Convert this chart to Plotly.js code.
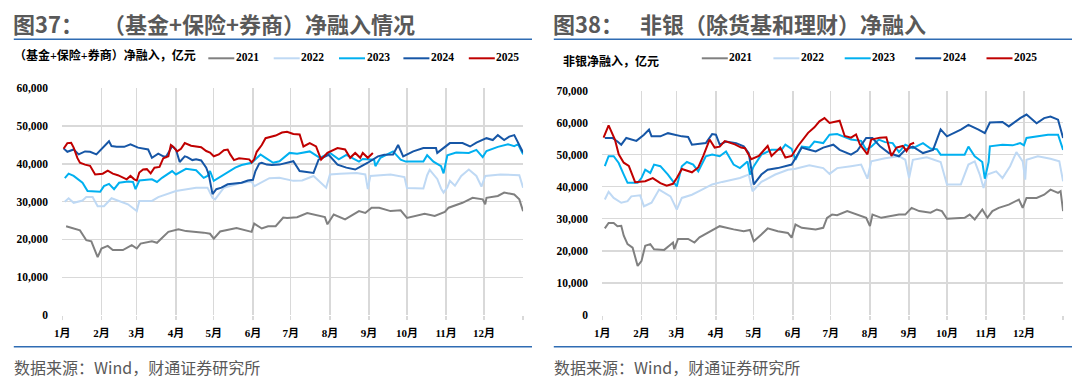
<!DOCTYPE html>
<html><head><meta charset="utf-8">
<script src="https://cdn.plot.ly/plotly-3.0.1.min.js"></script>
<style>html,body{margin:0;padding:0;background:#fff;}#chart{width:1080px;height:388px;}</style>
</head><body><div id="chart"></div>
<script>
// ---------- data ----------
const years = ["2021", "2022", "2023", "2024", "2025"];
const monthLabels = ["1月","2月","3月","4月","5月","6月","7月","8月","9月","10月","11月","12月",""];
const monthStartDays = [0,31,59,90,120,151,181,212,243,273,304,334,365];

const leftTitleNo = "图37：";
const leftTitle = "（基金+保险+券商）净融入情况";
const leftUnit = "（基金+保险+券商）净融入，亿元";
const rightTitleNo = "图38：";
const rightTitle = "非银（除货基和理财）净融入";
const rightUnit = "非银净融入，亿元";
const sourceText = "数据来源：Wind，财通证券研究所";

// Left chart: (基金+保险+券商) net financing, day-of-year vs 亿元
const left2021Days = [3,9,14,19,23,28,31,36,40,48,55,59,62,71,75,84,92,98,105,112,117,120,125,138,150,152,158,163,169,175,178,186,194,203,208,210,215,224,235,240,245,251,260,268,273,287,295,303,306,317,325,333,335,336,345,350,358,362,365];
const left2021Vals = [23500,22800,22400,19800,19500,15300,17600,18300,17200,17200,18500,17600,18900,19500,19100,22000,22700,22200,22100,21800,21500,20200,22100,23000,22000,24200,22900,23500,23500,25800,25700,25900,27000,26300,25900,24000,26600,25300,27500,27000,28400,28400,27500,27700,25700,26800,26200,27300,28400,29700,31000,30600,29300,31000,31500,32400,31900,30600,27500];

const left2022Days = [2,5,9,16,19,24,28,33,39,45,52,59,61,71,76,90,98,106,115,119,121,128,142,150,152,164,172,183,190,199,209,212,220,233,240,242,244,260,271,273,286,289,291,297,300,302,305,307,311,316,322,328,332,335,347,355,362,365];
const left2022Vals = [30000,30900,29700,30300,31200,31200,28800,28800,30900,30200,29300,27500,30200,30200,31200,32800,33300,33700,33700,31000,30600,33700,35000,35300,34100,36200,36300,35500,35600,36800,33700,37200,37400,37600,37200,33300,36800,37200,36500,33600,33500,37000,38400,36000,33500,32400,33800,35500,34200,36800,38500,36800,34000,36800,37200,37200,37000,33700];

const left2023Days = [2,5,9,16,20,30,33,37,41,45,52,56,58,61,71,75,79,87,90,98,106,112,115,117,120,128,137,142,150,153,157,161,167,172,180,186,196,204,212,219,225,235,238,247,248,252,262,268,272,286,289,294,300,302,305,312,322,328,333,336,345,353,358,361,365];
const left2023Vals = [36200,37400,36800,35000,32800,32600,34100,34700,33300,35000,35300,35200,33300,35600,35900,35200,36300,38100,37200,38700,38300,36300,36800,38100,35500,37200,39000,39700,40300,41200,42500,41600,40300,40700,42900,42700,43300,41600,42900,41200,42400,40600,41300,41100,39400,41600,43300,41100,40600,40600,42300,40600,39400,37500,42300,43000,42900,43700,41800,43400,44500,45200,44700,45200,42500];

const left2024Days = [1,4,9,13,18,22,27,31,33,37,39,43,49,54,60,66,68,71,76,80,82,85,87,90,93,97,99,103,106,110,114,116,119,122,126,131,138,142,147,151,153,156,158,162,166,172,183,188,199,203,211,218,225,232,237,242,250,255,262,266,270,278,286,296,297,307,317,323,328,336,341,345,350,354,358,361,365];
const left2024Vals = [44100,43200,43800,42500,43300,43200,42500,44000,44700,46000,44700,44500,44500,45200,44300,43900,43800,41600,42700,42000,41800,43500,44700,43800,40500,42000,41800,41000,41200,40900,39000,37200,32000,33300,33700,34600,34800,35000,35600,35800,38100,40100,40300,39800,39700,39800,40700,38100,37600,41100,42400,39800,39000,38500,39400,40300,42000,42400,42500,45000,42000,43300,44200,44200,42900,45500,45500,44600,45600,46800,46300,47600,46300,47200,47600,45600,43000];

const left2025Days = [1,4,7,9,12,14,18,22,26,32,36,40,44,48,51,54,57,59,61,64,67,70,73,77,80,84,86,88,91,94,97,102,106,110,114,117,120,124,128,131,133,136,140,144,148,150,152,154,158,161,165,169,174,178,183,188,191,196,201,205,210,218,224,228,232,236,238,242,246];
const left2025Vals = [44000,45500,45600,44300,41500,40300,39800,39500,37200,37400,38200,37400,37000,36300,35900,36800,35900,35600,37700,38500,38600,37500,39000,39200,41500,42000,45000,44500,43300,44000,45500,44800,44500,44400,43400,43000,42000,42500,43600,43800,42500,41000,41500,41300,41200,40400,41200,43200,45000,46800,47200,47500,48300,48500,47900,47800,44600,45500,44600,41100,42900,44200,43800,41600,42900,41600,42900,41600,42900];

// Right chart: 非银 net financing
const right2021Days = [2,5,9,12,15,17,20,24,28,31,34,38,41,49,53,56,57,60,68,73,77,84,90,93,104,112,117,120,126,131,139,147,150,153,158,169,175,178,182,186,194,202,209,212,214,221,229,235,240,245,251,260,265,269,273,287,291,295,301,305,309,314,322,330,333,336,344,350,355,361,363,365];
const right2021Vals = [27000,28700,28700,27700,27800,24700,22100,21000,15300,16800,21600,22100,20500,20300,21600,22600,20500,23700,23700,22600,24200,25800,27200,27700,26700,26100,26500,23000,25100,27000,26100,25600,24100,28200,27200,26700,27200,30300,31300,31100,32400,31300,30300,27700,31300,30300,30800,31300,31300,33400,32400,31900,32900,32400,30000,30300,31300,29800,32900,30300,32400,33400,34400,36000,33400,36500,36500,37500,39100,38100,38600,32400];

const right2022Days = [2,5,9,15,20,23,30,33,39,45,54,59,63,71,79,87,95,109,116,119,126,137,147,153,164,175,180,186,197,205,210,213,224,235,240,243,246,257,268,273,284,290,295,299,302,305,312,317,323,328,333,335,336,345,355,362,365];
const right2022Vals = [36000,38400,36500,35000,35500,37000,37300,33900,35000,39100,37000,32900,36500,37500,39100,40700,41500,42700,43800,38600,41500,43800,45300,45600,46700,45800,44000,45800,46400,46900,42500,47900,48900,49500,48400,42700,48400,49200,47700,40700,40700,46900,47900,43800,39600,43800,44800,42700,46400,50800,47900,42200,48400,49500,48700,47900,41700];

const right2023Days = [2,5,9,13,17,20,28,31,34,38,41,46,52,56,59,63,67,72,76,82,87,93,98,104,109,115,117,120,126,134,142,145,150,153,158,164,168,175,180,186,191,197,205,209,213,219,224,230,235,240,246,254,260,265,268,276,287,290,295,301,303,306,307,317,325,331,334,336,344,353,361,365];
const right2023Vals = [46400,49500,49500,47400,43800,41200,41200,42700,45300,44300,46900,46400,43800,41700,40100,46400,47700,46900,44800,49500,50000,49500,51000,46900,45800,47900,43800,46400,50000,51500,51500,53100,51800,48400,52500,52200,54100,53600,56200,56400,55700,54700,54300,51500,52500,54700,53900,53600,50800,53100,52000,53600,51900,51700,50000,50000,50000,52500,49500,47700,42500,47700,52600,53100,52900,53600,52900,55200,55700,56200,56200,51500];

const right2024Days = [2,8,12,15,19,27,33,37,39,46,52,57,63,68,71,82,87,90,93,98,106,112,116,120,126,131,139,150,154,158,164,169,175,183,188,197,202,209,214,220,227,235,240,246,254,262,268,273,284,290,298,303,307,317,322,331,336,344,350,355,361,365];
const right2024Vals = [55200,55200,54100,53100,55200,54300,56200,57800,55700,55700,56700,56200,55700,55500,53100,53600,56400,56200,53100,54100,53600,52600,50500,40700,43800,45300,45800,46900,49500,52200,51500,51000,52200,53100,51500,50000,51200,55200,55200,52600,50500,49500,51500,52500,50500,51500,57900,55700,57800,59300,57800,56700,60000,60200,58800,61400,62500,59800,61400,61900,60900,55200];

const right2025Days = [1,5,10,13,17,21,26,34,40,46,51,56,59,63,71,76,80,85,89,93,97,105,110,113,118,124,131,134,141,145,150,155,163,168,172,176,180,188,192,197,201,204,210,213,220,225,229,233,238,241,244,247];
const right2025Vals = [55300,59100,54700,50100,47500,46500,41400,41700,42700,41100,40300,40900,42700,45500,44500,46000,49600,54700,52200,52500,54200,53200,52200,52000,48600,49600,52700,49600,52200,49100,49600,52700,56800,58500,60400,61400,59900,60600,55800,55300,56300,53200,50100,54700,55300,55400,49600,52200,52700,51100,53200,53700];

// ---------- styling ----------
const colors = ["#808080", "#bfd9f4", "#00b0f0", "#1656a6", "#c00000"];
const W = 1080, H = 388;
const px = x => x / W;
const py = y => 1 - y / H;

const serif = "'Liberation Serif', 'Noto Sans CJK SC', serif";
const cjk = "'Noto Sans CJK SC', sans-serif";
const gridC = "#d9d9d9";

const leftSets = [[left2021Days,left2021Vals],[left2022Days,left2022Vals],[left2023Days,left2023Vals],[left2024Days,left2024Vals],[left2025Days,left2025Vals]];
const rightSets = [[right2021Days,right2021Vals],[right2022Days,right2022Vals],[right2023Days,right2023Vals],[right2024Days,right2024Vals],[right2025Days,right2025Vals]];

const traces = [];
leftSets.forEach((s, i) => traces.push({type:'scatter', mode:'lines', x:s[0], y:s[1], name:years[i], xaxis:'x', yaxis:'y', line:{color:colors[i], width:2}, showlegend:false, hoverinfo:'skip'}));
rightSets.forEach((s, i) => traces.push({type:'scatter', mode:'lines', x:s[0], y:s[1], name:years[i], xaxis:'x2', yaxis:'y2', line:{color:colors[i], width:2}, showlegend:false, hoverinfo:'skip'}));

function xAxis(domain, anchor) {
  return {domain, anchor, range:[0,365], tickmode:'array', tickvals:monthStartDays, ticktext:monthLabels,
    showgrid:true, gridcolor:gridC, gridwidth:1.3, zeroline:false, showline:false,
    ticks:'outside', ticklen:4, tickwidth:1.3, tickcolor:gridC, ticklabelstandoff:4,
    tickfont:{family:serif, size:11, color:'#000', weight:'bold'}, fixedrange:true};
}
function yAxis(domain, anchor, maxV) {
  return {domain, anchor, range:[0,maxV], dtick:10000, tick0:0, tickformat:',d',
    showgrid:true, gridcolor:gridC, gridwidth:1.3, zeroline:false, showline:false,
    ticks:'outside', ticklen:11, tickcolor:'rgba(0,0,0,0)',
    tickfont:{family:serif, size:11.5, color:'#000', weight:'bold'}, fixedrange:true};
}

const shapes = [];
const annotations = [];
function ann(x, y, text, font, xanchor) {
  annotations.push({xref:'paper', yref:'paper', x:px(x), y:py(y), text, showarrow:false,
    xanchor:xanchor||'left', yanchor:'middle', font, borderpad:0, borderwidth:0});
}
function hline(x0, x1, y, color, width) {
  shapes.push({type:'line', xref:'paper', yref:'paper', x0:px(x0), x1:px(x1), y0:py(y), y1:py(y), line:{color, width}});
}

const titleFont = {family:cjk, size:22, color:'#595959', weight:'bold'};
const unitFont = {family:serif, size:12, color:'#000', weight:'bold'};
const legFont = {family:serif, size:11.5, color:'#000', weight:'bold'};
const srcFont = {family:cjk, size:16, color:'#595959'};
const rule = '#2f6cb3';

// left panel decoration
ann(13, 22.7, leftTitleNo, titleFont);
ann(103, 22.7, leftTitle, titleFont);
hline(13.8, 532, 39.3, rule, 1.6);
hline(13.8, 532, 346.7, rule, 1.6);
ann(13.8, 367.3, sourceText, srcFont);
ann(14, 55.8, leftUnit, unitFont);
const leftLegX = [208.3, 273.7, 339, 403.4, 468.8];
leftLegX.forEach((x, i) => { hline(x, x + 26, 58.3, colors[i], 2); ann(x + 27.5, 57, years[i], legFont); });

// right panel decoration
ann(553, 22.7, rightTitleNo, titleFont);
ann(640, 22.7, rightTitle, titleFont);
hline(553.8, 1072, 39.3, rule, 1.6);
hline(553.8, 1072, 346.7, rule, 1.6);
ann(553.8, 367.3, sourceText, srcFont);
ann(563, 62, rightUnit, unitFont);
const rightLegX = [701.8, 773.4, 844.7, 915.2, 986.5];
rightLegX.forEach((x, i) => { hline(x, x + 26, 58.3, colors[i], 2); ann(x + 27.5, 57, years[i], legFont); });

const layout = {
  width:W, height:H, margin:{l:0, r:0, t:0, b:0}, paper_bgcolor:'#fff', plot_bgcolor:'#fff',
  showlegend:false,
  xaxis: xAxis([px(62.3), px(523.1)], 'y'),
  yaxis: yAxis([py(315), py(88.3)], 'x', 60000),
  xaxis2: xAxis([px(602.3), px(1063.1)], 'y2'),
  yaxis2: yAxis([py(315), py(90.5)], 'x2', 70000),
  shapes, annotations
};
Plotly.newPlot('chart', traces, layout, {displayModeBar:false, staticPlot:true});
</script></body></html>
